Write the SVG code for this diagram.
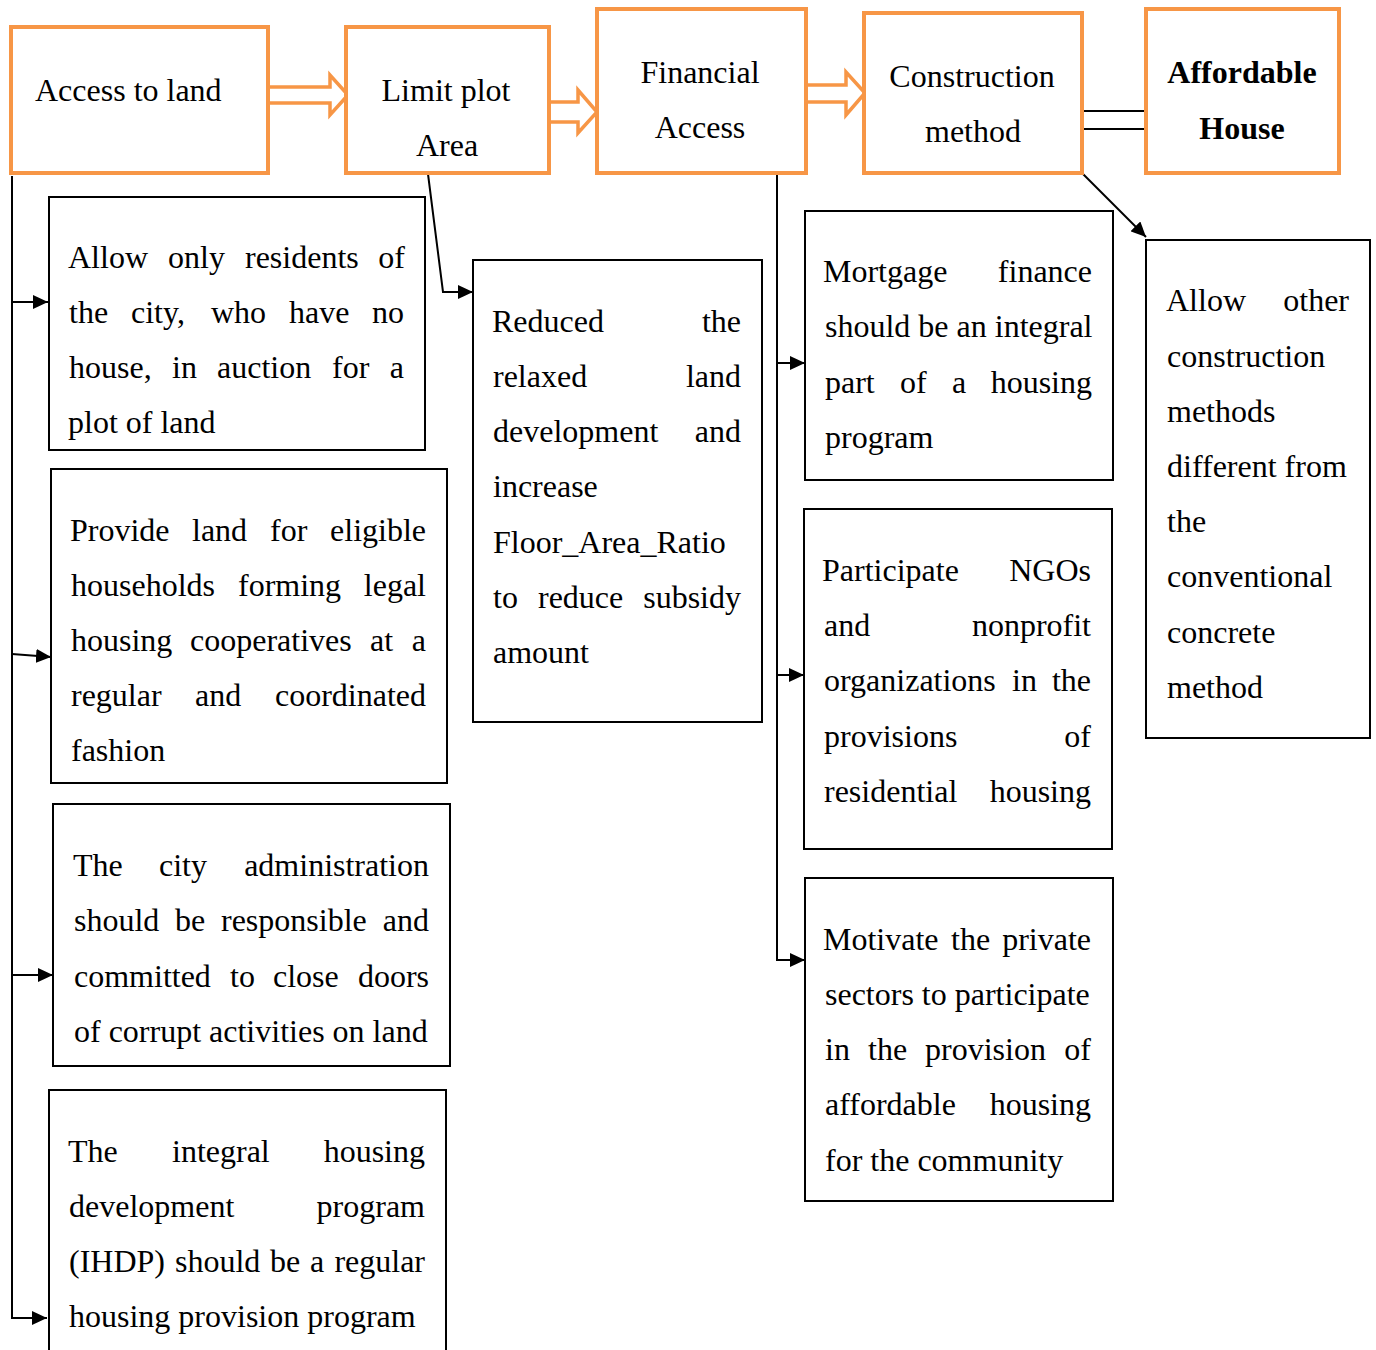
<svg xmlns="http://www.w3.org/2000/svg" width="1376" height="1350" viewBox="0 0 1376 1350">
<style>
.ob{fill:#fff;stroke:#F79646;stroke-width:4}
.bb{fill:#fff;stroke:#000;stroke-width:2}
.oa{fill:#fff;stroke:#F79646;stroke-width:3.5;stroke-linejoin:miter}
.ln{fill:none;stroke:#000;stroke-width:2}
text{font-family:"Liberation Serif","Times New Roman",serif;font-size:32px;fill:#000}
.c{text-anchor:middle}
.e{text-anchor:end}
.b{font-weight:bold}
</style>
<defs>
<marker id="ah" markerUnits="userSpaceOnUse" markerWidth="16" markerHeight="14" refX="15" refY="7" orient="auto">
<path d="M0,0 L15,7 L0,14 z" fill="#000"/>
</marker>
</defs>
<g id="connectors">
<path class="oa" d="M268,87 H330 V75 L348,95 L330,115 V103 H268"/>
<path class="oa" d="M549,102 H578 V90 L597,112 L578,133 V122 H549"/>
<path class="oa" d="M806,85 H846 V72 L865,93 L846,115 V102 H806"/>
<line class="ln" x1="1082" y1="111" x2="1146" y2="111"/>
<line class="ln" x1="1082" y1="129" x2="1146" y2="129"/>
<line class="ln" x1="1082" y1="173" x2="1146" y2="237" marker-end="url(#ah)"/>
<polyline class="ln" points="428,174 443,292 473,292" marker-end="url(#ah)"/>
<line class="ln" x1="12" y1="176" x2="12" y2="1319"/>
<line class="ln" x1="12" y1="302" x2="48" y2="302" marker-end="url(#ah)"/>
<line class="ln" x1="12" y1="654" x2="51" y2="657" marker-end="url(#ah)"/>
<line class="ln" x1="12" y1="975" x2="53" y2="975" marker-end="url(#ah)"/>
<line class="ln" x1="11" y1="1318" x2="47" y2="1318" marker-end="url(#ah)"/>
<line class="ln" x1="777" y1="173" x2="777" y2="961"/>
<line class="ln" x1="776" y1="363" x2="805" y2="363" marker-end="url(#ah)"/>
<line class="ln" x1="776" y1="675" x2="804" y2="675" marker-end="url(#ah)"/>
<line class="ln" x1="776" y1="960" x2="805" y2="960" marker-end="url(#ah)"/>
</g>
<g id="n-access-land">
<rect class="ob" x="11" y="27" width="257" height="146"/>
<text x="35" y="101">Access to land</text>
</g>
<g id="n-limit-plot">
<rect class="ob" x="346" y="27" width="203" height="146"/>
<text class="c" x="446" y="101">Limit plot</text>
<text class="c" x="447" y="156">Area</text>
</g>
<g id="n-financial">
<rect class="ob" x="597" y="9" width="209" height="164"/>
<text class="c" x="700" y="83">Financial</text>
<text class="c" x="700" y="138">Access</text>
</g>
<g id="n-construction">
<rect class="ob" x="864" y="13" width="218" height="160"/>
<text class="c" x="972" y="87">Construction</text>
<text class="c" x="973" y="142">method</text>
</g>
<g id="n-affordable">
<rect class="ob" x="1146" y="9" width="193" height="164"/>
<text class="c b" x="1242" y="83">Affordable</text>
<text class="c b" x="1242" y="139">House</text>
</g>
<g id="n-a">
<rect class="bb" x="49" y="197" width="376" height="253"/>
<text x="68" y="268">Allow</text><text x="168" y="268">only</text><text x="245" y="268">residents</text><text class="e" x="405" y="268">of</text>
<text x="69" y="323">the</text><text x="131" y="323">city,</text><text x="211" y="323">who</text><text x="289" y="323">have</text><text class="e" x="404" y="323">no</text>
<text x="69" y="378">house,</text><text x="172" y="378">in</text><text x="217" y="378">auction</text><text x="332" y="378">for</text><text class="e" x="404" y="378">a</text>
<text x="68" y="433">plot of land</text>
</g>
<g id="n-b">
<rect class="bb" x="51" y="469" width="396" height="314"/>
<text x="70" y="541">Provide</text><text x="192" y="541">land</text><text x="270" y="541">for</text><text class="e" x="426" y="541">eligible</text>
<text x="71" y="596">households</text><text x="238" y="596">forming</text><text class="e" x="426" y="596">legal</text>
<text x="71" y="651">housing</text><text x="190" y="651">cooperatives</text><text x="370" y="651">at</text><text class="e" x="426" y="651">a</text>
<text x="71" y="706">regular</text><text x="195" y="706">and</text><text class="e" x="426" y="706">coordinated</text>
<text x="71" y="761">fashion</text>
</g>
<g id="n-c">
<rect class="bb" x="53" y="804" width="397" height="262"/>
<text x="73" y="876">The</text><text x="159" y="876">city</text><text class="e" x="429" y="876">administration</text>
<text x="74" y="931">should</text><text x="175" y="931">be</text><text x="221" y="931">responsible</text><text class="e" x="429" y="931">and</text>
<text x="74" y="987">committed</text><text x="230" y="987">to</text><text x="273" y="987">close</text><text class="e" x="429" y="987">doors</text>
<text x="74" y="1042">of corrupt activities on land</text>
</g>
<g id="n-d">
<rect class="bb" x="49" y="1090" width="397" height="270"/>
<text x="68" y="1162">The</text><text x="172" y="1162">integral</text><text class="e" x="425" y="1162">housing</text>
<text x="69" y="1217">development</text><text class="e" x="425" y="1217">program</text>
<text x="69" y="1272">(IHDP)</text><text x="175" y="1272">should</text><text x="270" y="1272">be</text><text x="310" y="1272">a</text><text class="e" x="425" y="1272">regular</text>
<text x="69" y="1327">housing provision program</text>
</g>
<g id="n-e">
<rect class="bb" x="473" y="260" width="289" height="462"/>
<text x="492" y="332">Reduced</text><text class="e" x="741" y="332">the</text>
<text x="493" y="387">relaxed</text><text class="e" x="741" y="387">land</text>
<text x="493" y="442">development</text><text class="e" x="741" y="442">and</text>
<text x="493" y="497">increase</text>
<text x="493" y="553">Floor_Area_Ratio</text>
<text x="493" y="608">to</text><text x="538" y="608">reduce</text><text class="e" x="741" y="608">subsidy</text>
<text x="493" y="663">amount</text>
</g>
<g id="n-f">
<rect class="bb" x="805" y="211" width="308" height="269"/>
<text x="823" y="282">Mortgage</text><text class="e" x="1092" y="282">finance</text>
<text x="825" y="337">should be an integral</text>
<text x="825" y="393">part</text><text x="900" y="393">of</text><text x="952" y="393">a</text><text class="e" x="1092" y="393">housing</text>
<text x="825" y="448">program</text>
</g>
<g id="n-g">
<rect class="bb" x="804" y="509" width="308" height="340"/>
<text x="822" y="581">Participate</text><text class="e" x="1091" y="581">NGOs</text>
<text x="824" y="636">and</text><text class="e" x="1091" y="636">nonprofit</text>
<text x="824" y="691">organizations</text><text x="1012" y="691">in</text><text class="e" x="1091" y="691">the</text>
<text x="824" y="747">provisions</text><text class="e" x="1091" y="747">of</text>
<text x="824" y="802">residential</text><text class="e" x="1091" y="802">housing</text>
</g>
<g id="n-h">
<rect class="bb" x="805" y="878" width="308" height="323"/>
<text x="823" y="950">Motivate</text><text x="951" y="950">the</text><text class="e" x="1091" y="950">private</text>
<text x="825" y="1005">sectors to participate</text>
<text x="825" y="1060">in</text><text x="868" y="1060">the</text><text x="925" y="1060">provision</text><text class="e" x="1091" y="1060">of</text>
<text x="825" y="1115">affordable</text><text class="e" x="1091" y="1115">housing</text>
<text x="825" y="1171">for the community</text>
</g>
<g id="n-i">
<rect class="bb" x="1146" y="240" width="224" height="498"/>
<text x="1166" y="311">Allow</text><text class="e" x="1349" y="311">other</text>
<text x="1167" y="367">construction</text>
<text x="1167" y="422">methods</text>
<text x="1167" y="477">different from</text>
<text x="1167" y="532">the</text>
<text x="1167" y="587">conventional</text>
<text x="1167" y="643">concrete</text>
<text x="1167" y="698">method</text>
</g>
</svg>
